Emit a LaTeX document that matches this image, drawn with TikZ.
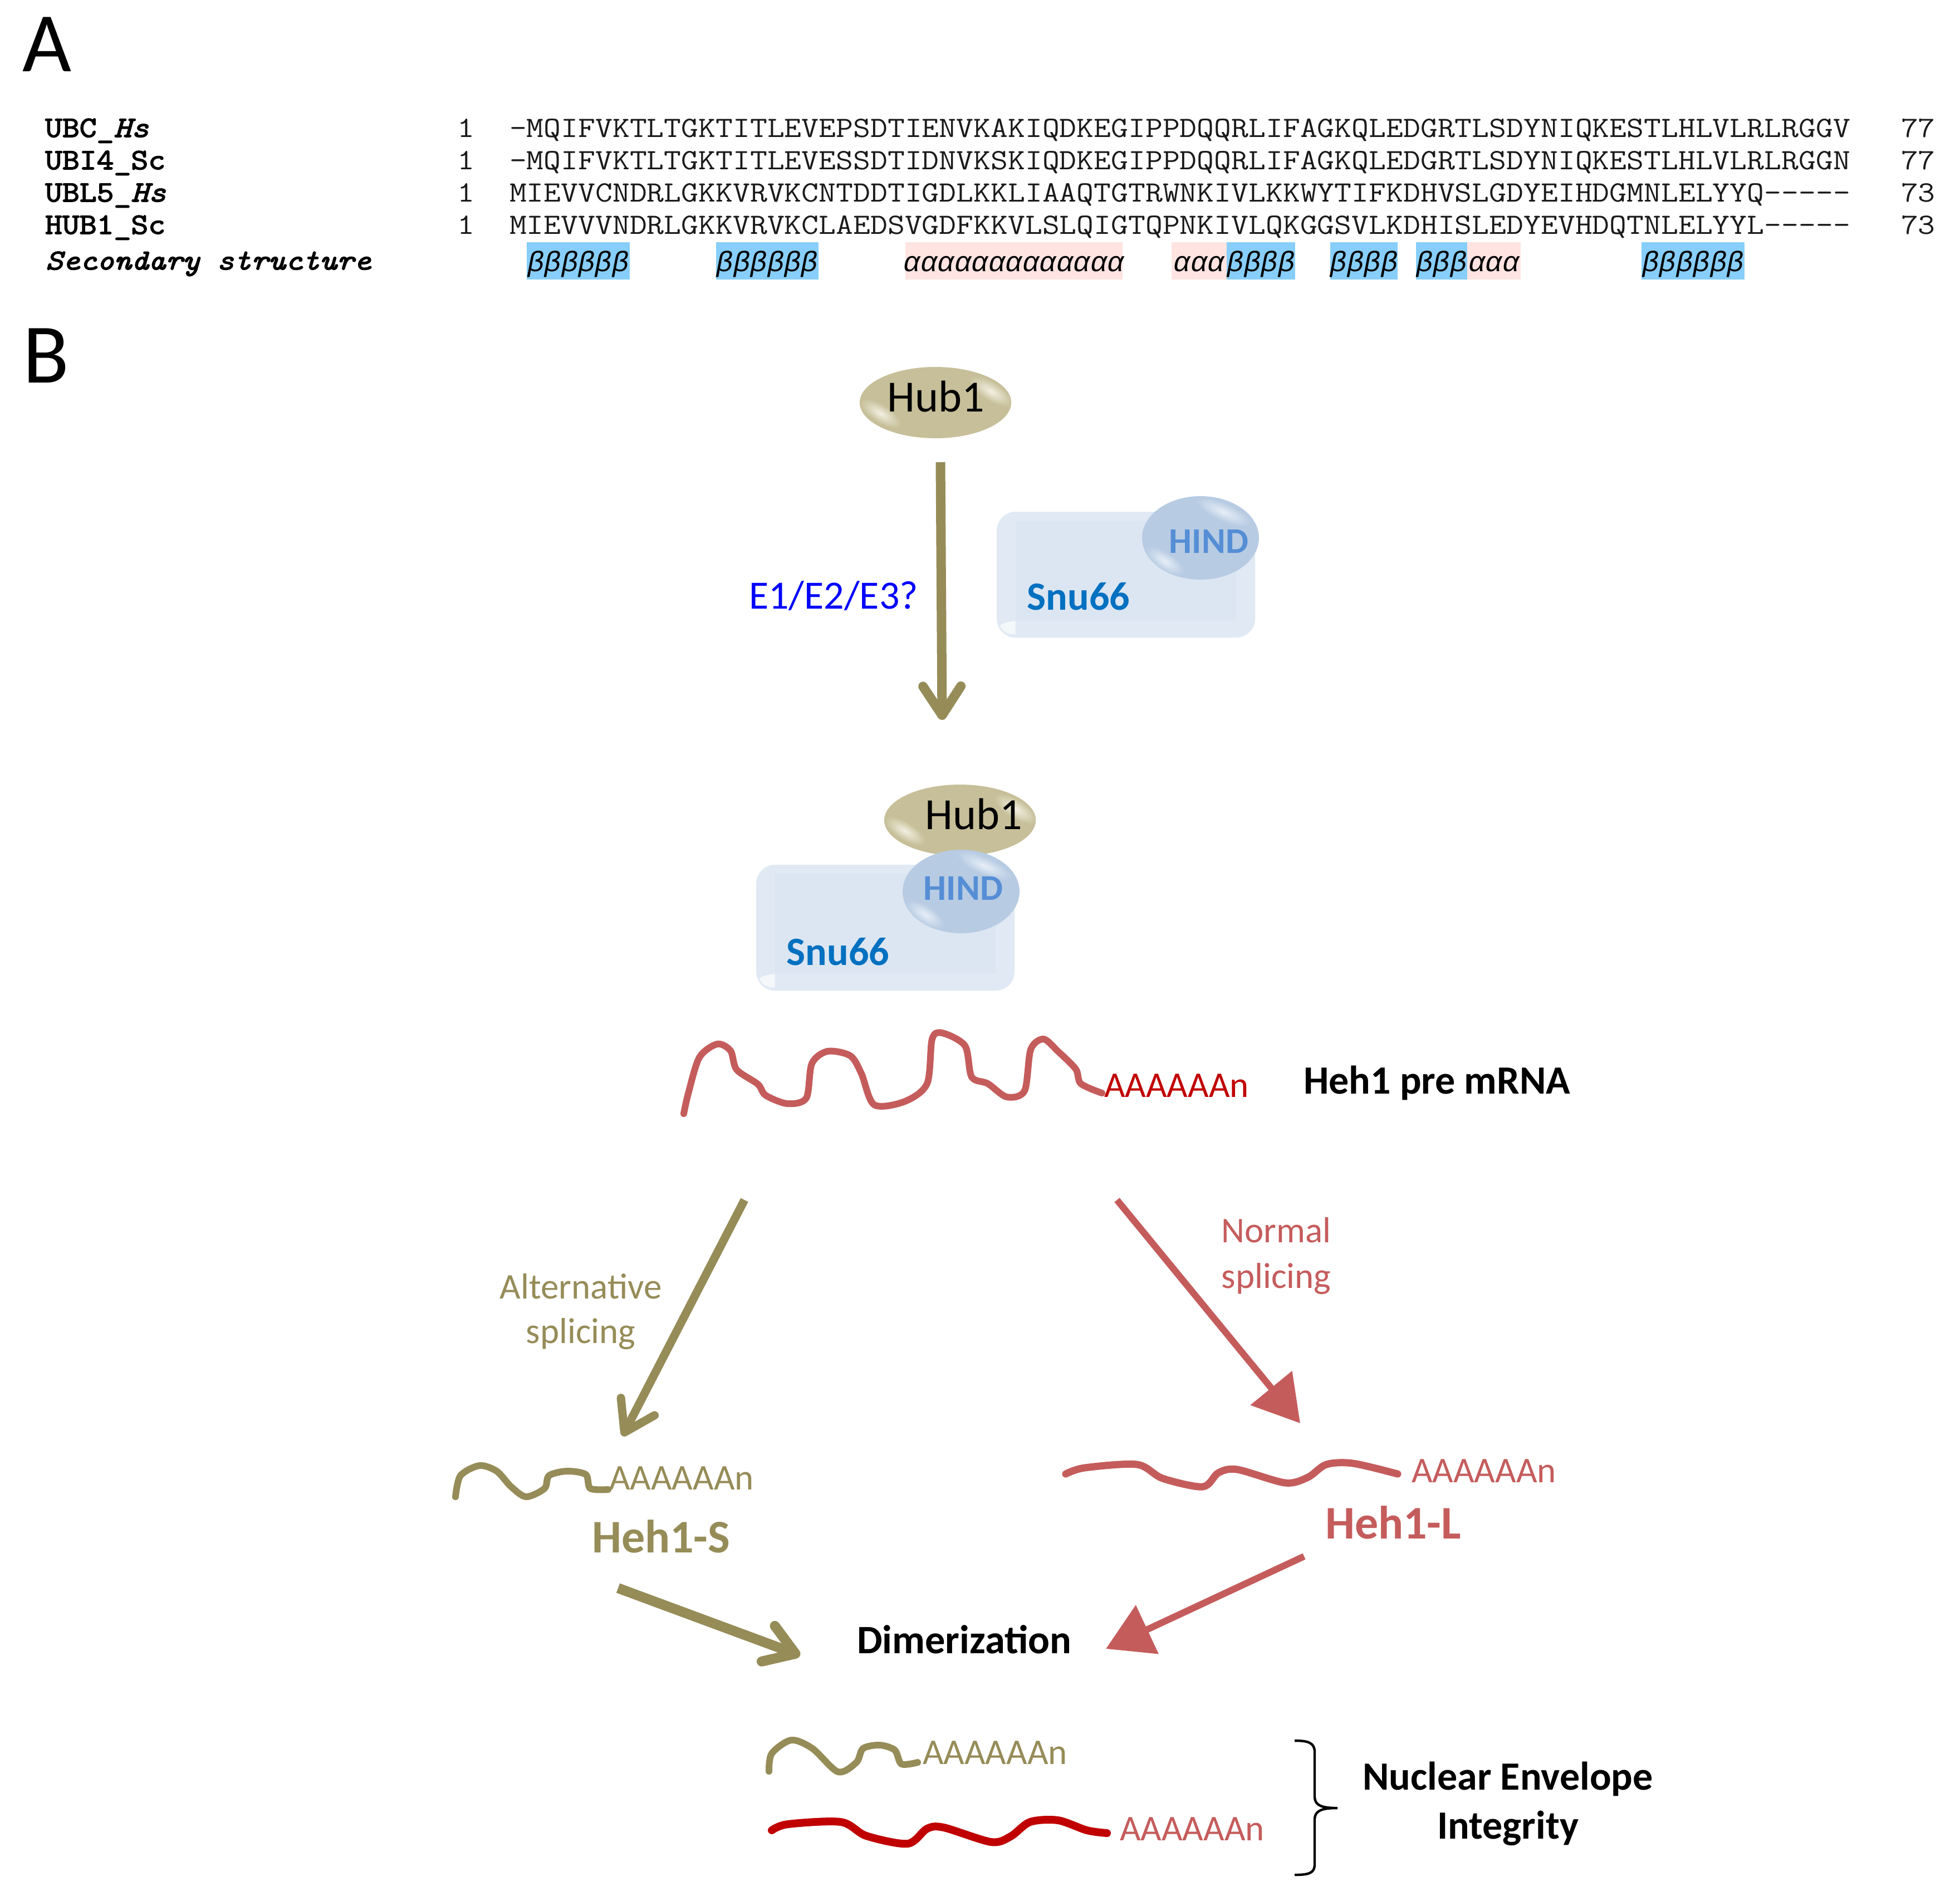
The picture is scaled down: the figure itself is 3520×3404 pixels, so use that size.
\documentclass[tikz,border=0pt]{standalone}
\usepackage{fontspec}
\setmainfont{Carlito}
\newfontfamily\seqfont[FakeStretch=1.131]{Latin Modern Mono}
\newfontfamily\labfont[FakeStretch=1.131,FakeBold=3]{Latin Modern Mono}
\newfontfamily\ssfont{Liberation Mono}
\usetikzlibrary{arrows.meta,shapes.geometric}
\definecolor{olive}{HTML}{968C58}
\definecolor{rosered}{HTML}{C55C5C}
\definecolor{deepred}{HTML}{C00000}
\definecolor{hubbase}{HTML}{C6BF99}
\definecolor{hublight}{HTML}{F6F3E6}
\definecolor{hindbase}{HTML}{B7CBE3}
\definecolor{hindlight}{HTML}{EAF1F8}
\definecolor{boxfill}{HTML}{DCE6F2}
\definecolor{boxedge}{HTML}{E0E9F4}
\definecolor{hindtext}{HTML}{558ED5}
\definecolor{snutext}{HTML}{0070C0}
\definecolor{seqink}{HTML}{1A1A1A}
\definecolor{betafill}{HTML}{87CEFA}
\definecolor{alphafill}{HTML}{FFE4E1}
\newcommand{\fs}[1]{\fontsize{#1pt}{#1pt}\selectfont}
\tikzset{
  txt/.style={inner sep=0pt,outer sep=0pt,anchor=base},
  txtw/.style={inner sep=0pt,outer sep=0pt,anchor=base west},
  panel/.style={txtw,font=\fs{76}},
  seqlabel/.style={txtw,font=\labfont\fs{26.5},text=black},
  seqtext/.style={txtw,font=\seqfont\fs{26.5},text=seqink},
  sstext/.style={txt,font=\ssfont\fs{25.4}\itshape,text=black},
  hubshape/.style={ellipse,fill=hubbase,inner sep=0pt,minimum width=136pt,minimum height=64pt},
  hindshape/.style={ellipse,fill=hindbase,inner sep=0pt,minimum width=105pt,minimum height=75pt},
  snushape/.style={rectangle,rounded corners=17pt,fill=boxedge,inner sep=0pt,minimum width=232pt,minimum height=113pt},
  hubtext/.style={txt,font=\fs{40},text=black},
  hindlabel/.style={txt,font=\fs{32.5}\bfseries,text=hindtext},
  snulabel/.style={txt,font=\fs{36}\bfseries,text=snutext},
  olivelabel/.style={txt,font=\fs{32.5},text=olive},
  redlabel/.style={txt,font=\fs{32.5},text=rosered},
  olivearrow/.style={draw=olive,line width=#1,-{Straight Barb[length=26pt,width=34pt,round]}},
  redarrow/.style={draw=rosered,line width=6pt,-{Triangle[length=41pt,width=47pt]}},
  mrna/.style={line width=#1,line join=round,line cap=round}
}
\newcommand{\ssbox}[6]{%
  \fill[#4] (#2,435) rectangle (#3,502);
  \node[sstext] (#1) at ({(#2+#3)/2},487) {#5#6};}
% soft highlight built from concentric ellipses: base, light, x, y, a, b, angle
\newcommand{\glowspot}[7]{%
  \foreach \glowi in {0,...,13}{
    \pgfmathtruncatemacro{\glowp}{\glowi*7}
    \pgfmathsetmacro{\glows}{1-\glowi/14}
    \fill[color=#2!\glowp!#1,rotate around={#7:(#3,#4)}] (#3,#4) ellipse ({#5*\glows} and {#6*\glows});
  }}
\newcommand{\hubgloss}[2]{%
  \begin{scope}
    \clip (#1,#2) ellipse (136 and 64);
    \glowspot{hubbase}{hublight}{#1+100}{#2-20}{46}{18}{-32}
    \glowspot{hubbase}{hublight}{#1-98}{#2+20}{44}{17}{-32}
  \end{scope}}
\newcommand{\hindgloss}[2]{%
  \begin{scope}
    \clip (#1,#2) ellipse (105 and 75);
    \glowspot{hindbase}{hindlight}{#1+42}{#2-46}{56}{17}{-24}
    \glowspot{hindbase}{hindlight}{#1-64}{#2+42}{42}{17}{-34}
  \end{scope}}
\newcommand{\boxbevel}[1]{%
  \fill[boxfill] ([xshift=17pt,yshift=-8pt]#1.north west) rectangle ([xshift=-17pt,yshift=15pt]#1.south east);
  \fill[white,opacity=.7] ([xshift=3pt,yshift=11pt]#1.south west) .. controls ([xshift=7pt,yshift=14pt]#1.south west) and ([xshift=13pt,yshift=15pt]#1.south west) .. ([xshift=17pt,yshift=15pt]#1.south west) -- ([xshift=17pt,yshift=3pt]#1.south west) .. controls ([xshift=10pt,yshift=3pt]#1.south west) and ([xshift=6pt,yshift=5pt]#1.south west) .. cycle;}
\begin{document}
\begin{tikzpicture}[x=.5pt,y=-.5pt]
\useasboundingbox (0,0) rectangle (3520,3404);
\fill[white] (0,0) rectangle (3520,3404);

% Panel letters
\node[panel] (panelA) at (40,128) {A};
\node[panel] (panelB) at (41,687) {B};

% Alignment
\node[seqlabel] (l1) at (81,246) {UBC\_{\itshape Hs}};
\node[seqlabel] (l2) at (81,304) {UBI4\_Sc};
\node[seqlabel] (l3) at (81,362) {UBL5\_{\itshape Hs}};
\node[seqlabel] (l4) at (81,420) {HUB1\_Sc};
\node[seqlabel,font=\labfont\fs{25.9}\itshape] (l5) at (82,484) {Secondary structure};
\foreach \yy/\nm in {246/a,304/b,362/c,420/d}{
  \node[seqtext] (one\nm) at (821,\yy) {1};
}
\node[seqtext] (s1) at (915,246) {-MQIFVKTLTGKTITLEVEPSDTIENVKAKIQDKEGIPPDQQRLIFAGKQLEDGRTLSDYNIQKESTLHLVLRLRGGV};
\node[seqtext] (s2) at (915,304) {-MQIFVKTLTGKTITLEVESSDTIDNVKSKIQDKEGIPPDQQRLIFAGKQLEDGRTLSDYNIQKESTLHLVLRLRGGN};
\node[seqtext] (s3) at (915,362) {MIEVVCNDRLGKKVRVKCNTDDTIGDLKKLIAAQTGTRWNKIVLKKWYTIFKDHVSLGDYEIHDGMNLELYYQ-{}-{}-{}-{}-};
\node[seqtext] (s4) at (915,420) {MIEVVVNDRLGKKVRVKCLAEDSVGDFKKVLSLQIGTQPNKIVLQKGGSVLKDHISLEDYEVHDQTNLELYYL-{}-{}-{}-{}-};
\node[seqtext] (e1) at (3414,246) {77};
\node[seqtext] (e2) at (3414,304) {77};
\node[seqtext] (e3) at (3414,362) {73};
\node[seqtext] (e4) at (3414,420) {73};

\ssbox{ss1}{946}{1131}{betafill}{ββββββ}{}
\ssbox{ss2}{1286}{1470}{betafill}{ββββββ}{}
\ssbox{ss3}{1626}{2016}{alphafill}{ααααααααααααα}{}
\ssbox{ss4}{2104}{2203}{alphafill}{ααα}{}
\ssbox{ss5}{2203}{2326}{betafill}{ββββ}{}
\ssbox{ss6}{2389}{2510}{betafill}{ββββ}{}
\ssbox{ss7}{2543}{2635}{betafill}{βββ}{}
\ssbox{ss8}{2635}{2731}{alphafill}{ααα}{}
\ssbox{ss9}{2948}{3133}{betafill}{ββββββ}{}

% Hub1 alone
\node[hubshape] (hubA) at (1680,723) {};
\hubgloss{1680}{723}
\node[hubtext] (hubAt) at (1681,739) {Hub1};

% Vertical arrow
\coordinate (vStart) at (1689,830);
\coordinate (vEnd) at (1692,1293);
\draw[olivearrow=8.5pt] (vStart) -- (vEnd);
\node[txt,font=\fs{36},text=blue] (enz) at (1497,1093) {E1/E2/E3?};

% Snu66 alone
\node[snushape] (boxA) at (2022,1032) {};
\boxbevel{boxA}
\node[hindshape] (hindA) at (2156,966) {};
\hindgloss{2156}{966}
\node[hindlabel] (hindAt) at (2171,993) {HIND};
\node[snulabel] (snuAt) at (1937,1095) {Snu66};

% Complex
\node[hubshape] (hubB) at (1724,1473) {};
\hubgloss{1724}{1473}
\node[hubtext] (hubBt) at (1749,1489) {Hub1};
\node[snushape] (boxB) at (1590,1666) {};
\boxbevel{boxB}
\node[hindshape] (hindB) at (1726,1601) {};
\hindgloss{1726}{1601}
\node[hindlabel] (hindBt) at (1730,1616) {HIND};
\node[snulabel] (snuBt) at (1505,1733) {Snu66};

% pre mRNA
\draw[mrna=6pt,rosered] plot[smooth,tension=.5] coordinates {(1228,2000) (1236,1964) (1256,1899) (1288,1875) (1312,1887) (1323,1921) (1361,1947) (1375,1967) (1414,1982) (1448,1972) (1458,1910) (1486,1888) (1527,1896) (1547,1928) (1570,1984) (1625,1978) (1665,1946) (1674,1866) (1692,1855) (1733,1878) (1745,1934) (1774,1946) (1808,1970) (1840,1959) (1851,1885) (1874,1866) (1900,1888) (1932,1920) (1941,1946) (1979,1963)};
\node[txtw,font=\fs{32.5},text=deepred] (preA) at (1983,1970) {AAAAAAn};
\node[txtw,font=\fs{36}\bfseries,text=black] (preT) at (2341,1964) {Heh1 pre mRNA};

% Splicing arrows
\coordinate (altStart) at (1337,2155);
\coordinate (altEnd) at (1118,2579);
\draw[olivearrow=7.5pt] (altStart) -- (altEnd);
\node[olivelabel] (alt1) at (1043,2332) {Alternative};
\node[olivelabel] (alt2) at (1043,2412) {splicing};
\coordinate (normStart) at (2006,2155);
\coordinate (normEnd) at (2335,2556);
\draw[redarrow] (normStart) -- (normEnd);
\node[redlabel] (norm1) at (2292,2231) {Normal};
\node[redlabel] (norm2) at (2292,2313) {splicing};

% Heh1-S
\draw[mrna=6pt,olive] plot[smooth,tension=.5] coordinates {(818,2688) (827,2650) (861,2632) (892,2642) (918,2670) (945,2688) (978,2673) (986,2650) (1018,2642) (1052,2648) (1060,2673) (1092,2675)};
\node[txtw,font=\fs{32.5},text=olive] (sA) at (1094,2675) {AAAAAAn};
\node[txtw,font=\fs{42}\bfseries,text=olive] (sT) at (1063,2788) {Heh1-S};

% Heh1-L
\draw[mrna=6.5pt,rosered] plot[smooth,tension=.5] coordinates {(1914,2647) (1948,2636) (2042,2630) (2088,2655) (2160,2670) (2188,2645) (2222,2639) (2308,2663) (2349,2653) (2382,2630) (2430,2628) (2510,2647)};
\node[txtw,font=\fs{32.5},text=rosered] (lA) at (2535,2662) {AAAAAAn};
\node[txtw,font=\fs{42}\bfseries,text=rosered] (lT) at (2380,2763) {Heh1-L};

% To dimerization
\coordinate (dimSstart) at (1110,2852);
\coordinate (dimSend) at (1437,2973);
\draw[olivearrow=9pt] (dimSstart) -- (dimSend);
\coordinate (dimLstart) at (2342,2795);
\coordinate (dimLend) at (1986,2961);
\draw[redarrow] (dimLstart) -- (dimLend);
\node[txtw,font=\fs{36.2}\bfseries,text=black] (dimer) at (1539,2969) {Dimerization};

% Dimers
\draw[mrna=6pt,olive] plot[smooth,tension=.5] coordinates {(1381,3181) (1386,3149) (1421,3125) (1459,3140) (1505,3182) (1538,3165) (1550,3140) (1580,3134) (1607,3143) (1619,3168) (1648,3165)};
\node[txtw,font=\fs{32.5},text=olive] (dA) at (1657,3168) {AAAAAAn};
\draw[mrna=7pt,deepred] plot[smooth,tension=.5] coordinates {(1386,3287) (1415,3276) (1510,3272) (1556,3297) (1630,3311) (1665,3284) (1695,3282) (1780,3308) (1815,3298) (1850,3272) (1900,3269) (1952,3287) (1988,3292)};
\node[txtw,font=\fs{32.5},text=rosered] (dB) at (2011,3305) {AAAAAAn};

% Brace
\coordinate (brTop) at (2325,3126);
\coordinate (brMid) at (2402,3247);
\coordinate (brBot) at (2325,3367);
\draw[black,line width=2.2pt] (brTop) .. controls (2350,3126) and (2360,3130) .. (2361,3145) -- (2361,3228) .. controls (2362,3242) and (2373,3247) .. (brMid) .. controls (2373,3247) and (2362,3252) .. (2361,3266) -- (2361,3350) .. controls (2360,3364) and (2350,3367) .. (brBot);
\node[txt,font=\fs{36}\bfseries,text=black] (ne1) at (2708,3214) {Nuclear Envelope};
\node[txt,font=\fs{36}\bfseries,text=black] (ne2) at (2708,3302) {Integrity};
\end{tikzpicture}
\end{document}
